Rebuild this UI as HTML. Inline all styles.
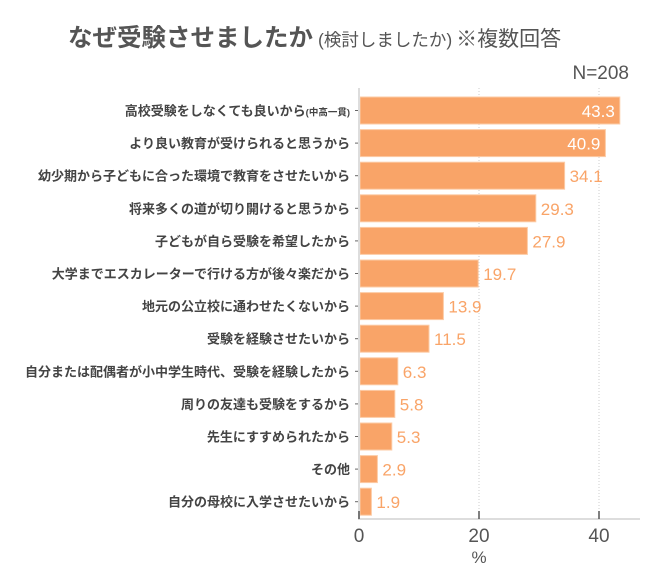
<!DOCTYPE html>
<html><head><meta charset="utf-8"><style>
body{margin:0;background:#fff;width:650px;height:569px;overflow:hidden;font-family:"Liberation Sans","Noto Sans CJK JP",sans-serif}
</style></head><body>
<svg id="chart" width="650" height="569" xmlns="http://www.w3.org/2000/svg" font-family="Liberation Sans, Noto Sans CJK JP, sans-serif">
<text x="68" y="46" font-size="24.5" font-weight="bold" fill="#555">なぜ受験させましたか<tspan dx="5" font-size="17.5" font-weight="normal">(検討しましたか)</tspan><tspan dx="4" font-size="21" font-weight="normal">※複数回答</tspan></text>
<text x="629" y="79" font-size="19" fill="#555" text-anchor="end">N=208</text>
<g id="grid"></g><g id="bars"></g><g id="axes"></g>
</svg>
<script>
const categories=["高校受験をしなくても良いから","より良い教育が受けられると思うから","幼少期から子どもに合った環境で教育をさせたいから","将来多くの道が切り開けると思うから","子どもが自ら受験を希望したから","大学までエスカレーターで行ける方が後々楽だから","地元の公立校に通わせたくないから","受験を経験させたいから","自分または配偶者が小中学生時代、受験を経験したから","周りの友達も受験をするから","先生にすすめられたから","その他","自分の母校に入学させたいから"];
const values=[43.3,40.9,34.1,29.3,27.9,19.7,13.9,11.5,6.3,5.8,5.3,2.9,1.9];
const ticks=[0,20,40];
const NS="http://www.w3.org/2000/svg";
const x0=359,ppu=6.0,top0=97,step=32.6,bh=27,axisY=519;
const xs=v=>x0+v*ppu, yc=i=>top0+i*step+bh/2;
function mk(t,a,p,txt){const e=document.createElementNS(NS,t);for(const k in a)e.setAttribute(k,a[k]);if(txt!==undefined)e.textContent=txt;p.appendChild(e);return e;}
const g=document.getElementById('grid'),b=document.getElementById('bars'),ax=document.getElementById('axes');
ticks.forEach(t=>{if(t>0){const l=mk('line',{x1:xs(t),x2:xs(t),y1:88,y2:axisY,stroke:'#ccc','stroke-dasharray':'1,2'},g);

}});
categories.forEach((c,i)=>{
 const r=mk('rect',{x:x0+1,y:yc(i)-bh/2,width:values[i]*ppu,height:bh,fill:'#F9A468',stroke:'#FCCBA6','stroke-width':1},b);
 
 
 const lab=mk('text',{x:350,y:yc(i)+5,'font-size':13,'font-weight':'bold',fill:'#444','text-anchor':'end'},b,c);
 if(i===0){lab.textContent='';lab.appendChild(document.createTextNode(c));mk('tspan',{'font-size':9.5},lab,'(中高一貫)');}
 
 
 const tk=mk('line',{x1:x0-4,x2:x0,y1:yc(i),y2:yc(i),stroke:'#666'},b);
 
 
 const inside=values[i]>40;
 const v=mk('text',{x:inside?xs(values[i])-4:xs(values[i])+6,y:yc(i)+6.5,'font-size':17,fill:inside?'#fff':'#F9A468','text-anchor':inside?'end':'start'},b,values[i].toFixed(1));
 
 
});
const ya=mk('line',{x1:x0,x2:x0,y1:88,y2:axisY,stroke:'#ddd','stroke-width':2},ax);


const xa=mk('line',{x1:x0-1,x2:640,y1:axisY,y2:axisY,stroke:'#ddd','stroke-width':2},ax);


ticks.forEach(t=>{
 const l=mk('line',{x1:xs(t),x2:xs(t),y1:axisY-8,y2:axisY,stroke:'#555','stroke-width':1.5},ax);
 
 
 const tx=mk('text',{x:xs(t),y:542,'font-size':19,fill:'#555','text-anchor':'middle'},ax,String(t));
 
 
});
const xt=mk('text',{x:xs(20),y:563,'font-size':17,fill:'#555','text-anchor':'middle'},ax,'%');


</script>
</body></html>
